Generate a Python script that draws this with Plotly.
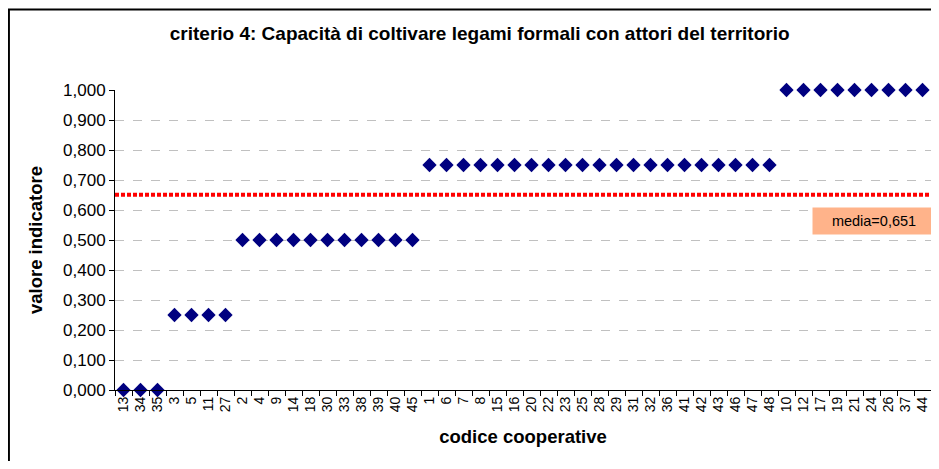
import plotly.graph_objects as go

# codici cooperative nell'ordine del grafico e relativo valore dell'indicatore
codici = ["13", "34", "35",
          "3", "5", "11", "27",
          "2", "4", "9", "14", "18", "30", "33", "38", "39", "40", "45",
          "1", "6", "7", "8", "15", "16", "20", "22", "23", "25", "28", "29",
          "31", "32", "36", "41", "42", "43", "46", "47", "48",
          "10", "12", "17", "19", "21", "24", "26", "37", "44"]
valori = [0.0] * 3 + [0.25] * 4 + [0.5] * 11 + [0.75] * 21 + [1.0] * 9

media = round(sum(valori) / len(valori), 3)

titolo = "criterio 4: Capacità di coltivare legami formali con attori del territorio"
font_fam = "Liberation Sans, Arial, sans-serif"

fig = go.Figure()
fig.add_trace(go.Scatter(
    x=codici, y=valori, mode="markers",
    marker=dict(symbol="diamond", size=11, color="#000080"),
    cliponaxis=False, showlegend=False))

# linea della media
fig.add_hline(y=media, line=dict(color="#ff0000", width=4, dash="4px,2px"))

fig.add_annotation(
    text=f"media={media:.3f}".replace(".", ","),
    xref="paper", yref="y", x=0.854, y=0.563,
    xanchor="left", yanchor="middle",
    width=122, height=26, borderpad=0,
    bgcolor="#ffb38a", showarrow=False,
    font=dict(size=14.5, color="black", family=font_fam))

# cornice esterna del grafico
fig.add_shape(type="rect", xref="paper", yref="paper",
              x0=-0.13, x1=1.05, y0=-0.5, y1=1.268,
              line=dict(color="black", width=2), layer="above")

fig.update_xaxes(
    type="category", range=[-0.5, len(codici) - 0.5],
    tickangle=-90, tickson="boundaries", ticks="outside", ticklen=5,
    tickcolor="black", showline=True, linecolor="black", linewidth=1,
    showgrid=False, automargin=False,
    tickfont=dict(size=14, color="black", family=font_fam),
    title=dict(text="<b>codice cooperative</b>", standoff=18,
               font=dict(size=18.5, color="black", family=font_fam)))

fig.update_yaxes(
    range=[0, 1.0], dtick=0.1, tickformat=".3f",
    ticks="outside", ticklen=5, tickcolor="black",
    showline=True, linecolor="black", linewidth=1,
    showgrid=True, gridcolor="#c0c0c0", griddash="dash", zeroline=False,
    automargin=False,
    tickfont=dict(size=17, color="black", family=font_fam),
    title=dict(text="<b>valore indicatore</b>", standoff=15,
               font=dict(size=18.5, color="black", family=font_fam)))

fig.update_layout(
    width=923, height=453,
    separators=",.",
    margin=dict(l=107, r=0, t=82, b=71),
    plot_bgcolor="white", paper_bgcolor="white",
    title=dict(text=f"<b>{titolo}</b>", x=0.511, y=0.945,
               xanchor="center", yanchor="middle",
               font=dict(size=19, color="black", family=font_fam)))

fig.write_html("out.html")
